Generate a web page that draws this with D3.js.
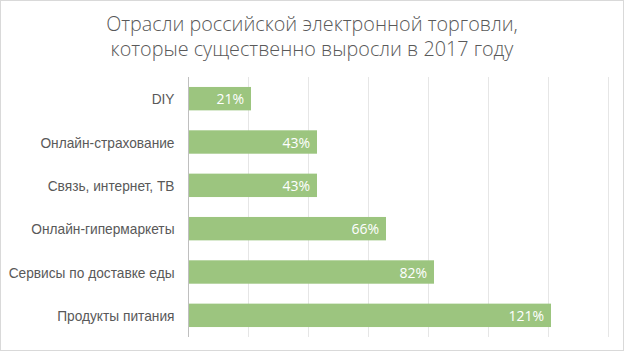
<!DOCTYPE html>
<html>
<head>
<meta charset="utf-8">
<script src="https://cdn.jsdelivr.net/npm/d3@7"></script>
<style>
  body { margin: 0; background: #fff; }
  svg { display: block; font-family: "Open Sans", "Noto Sans", sans-serif; }
</style>
</head>
<body>
<div id="chart"></div>
<script>
// chart data
var categories = ["DIY", "Онлайн-страхование", "Связь,  интернет, ТВ", "Онлайн-гипермаркеты", "Сервисы по доставке еды", "Продукты питания"];
var values = [21, 43, 43, 66, 82, 121];
var xTicks = [0, 20, 40, 60, 80, 100, 120, 140];
var titleLines = ["Отрасли российской электронной торговли,", "которые существенно выросли в 2017 году"];

var width = 624, height = 351;
var margin = {top: 77, right: 16, bottom: 14, left: 188};

var svg = d3.select("#chart").append("svg")
    .attr("width", width)
    .attr("height", height);

// outer border
svg.append("rect")
    .attr("x", 0.5).attr("y", 0.5)
    .attr("width", width - 1).attr("height", height - 1)
    .attr("fill", "#fff")
    .attr("stroke", "#d9d9d9");

// title
var title = svg.append("g").selectAll("text")
    .data(titleLines)
    .enter().append("text")
    .attr("x", width / 2)
    .attr("y", function(d, i) { return 31 + i * 25; })
    .attr("text-anchor", "middle")
    .style("font-size", "19px")
    .style("font-weight", 300)
    .attr("fill", "#595959")
    .text(function(d) { return d; });
// scale title so the first line is ~412px wide like the original
var tw = title.nodes()[0].getComputedTextLength();
title.style("font-size", (19 * 412 / tw) + "px");

var x = d3.scaleLinear()
    .domain([0, 140])
    .range([margin.left, margin.left + 420]);

var y = d3.scaleBand()
    .domain(categories)
    .range([margin.top, height - margin.bottom])
    .paddingInner(0.46)
    .paddingOuter(0.23);

// gridlines
svg.append("g").selectAll("line")
    .data(xTicks.slice(1))
    .enter().append("line")
    .attr("x1", function(d) { return Math.round(x(d)) + 0.5; })
    .attr("x2", function(d) { return Math.round(x(d)) + 0.5; })
    .attr("y1", margin.top)
    .attr("y2", height - margin.bottom)
    .attr("stroke", "#e6e6e6");

// bars
svg.append("g").selectAll("rect")
    .data(values)
    .enter().append("rect")
    .attr("x", x(0))
    .attr("y", function(d, i) { return y(categories[i]); })
    .attr("width", function(d) { return x(d) - x(0); })
    .attr("height", y.bandwidth())
    .attr("fill", "#9cc57f");

// category axis
var yAxis = svg.append("g")
    .attr("transform", "translate(" + (Math.round(x(0)) + 0.5) + ",0)")
    .call(d3.axisLeft(y).tickSize(0).tickPadding(14));
yAxis.select(".domain").attr("stroke", "#bfbfbf").attr("d", "M0," + margin.top + "V" + (height - margin.bottom));
var labels = yAxis.selectAll("text")
    .style("font-size", "12px")
    .attr("dy", "0.4em")
    .attr("fill", "#595959");
var lw = d3.max(labels.nodes(), function(n) { return n.getComputedTextLength(); });
labels.style("font-size", (12 * 166 / lw) + "px");

// value labels
svg.append("g").selectAll("text")
    .data(values)
    .enter().append("text")
    .attr("x", function(d) { return x(d) - 7; })
    .attr("y", function(d, i) { return y(categories[i]) + y.bandwidth() / 2; })
    .attr("dy", "0.4em")
    .attr("text-anchor", "end")
    .style("font-size", "14px")
    .attr("fill", "#fff")
    .text(function(d) { return d + "%"; });
</script>
</body>
</html>
